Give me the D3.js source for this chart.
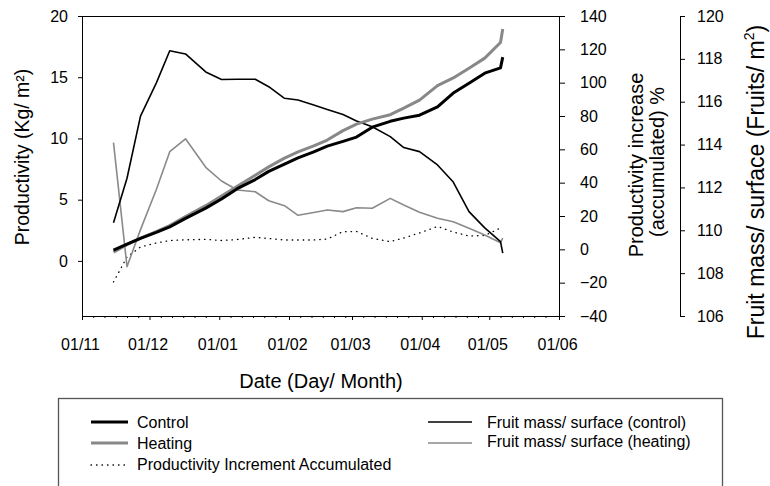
<!DOCTYPE html>
<html><head><meta charset="utf-8">
<script src="https://cdn.jsdelivr.net/npm/d3@7"></script>
<style>
body{margin:0;background:#fff}
svg text{font-family:"Liberation Sans",Arial,sans-serif;fill:#000}
</style></head><body>
<svg id="c" width="770" height="486"></svg>
<script>
// ---- data ----
const dates = ["2009-11-15","2009-11-21","2009-11-27","2009-12-04","2009-12-10","2009-12-17","2009-12-26",
  "2010-01-02","2010-01-09","2010-01-17","2010-01-23","2010-01-30","2010-02-05","2010-02-12","2010-02-18",
  "2010-02-25","2010-03-03","2010-03-10","2010-03-18","2010-03-24","2010-03-31","2010-04-08","2010-04-15",
  "2010-04-22","2010-04-29","2010-05-06","2010-05-07"];
const control = [0.87,1.36,1.84,2.33,2.78,3.47,4.31,5.06,5.90,6.64,7.31,7.91,8.41,8.90,9.37,9.76,10.11,10.92,11.40,11.66,11.90,12.57,13.71,14.51,15.33,15.76,16.64];
const heating = [0.72,1.33,1.86,2.39,2.88,3.62,4.51,5.29,6.09,7.00,7.68,8.39,8.90,9.39,9.87,10.64,11.17,11.58,11.94,12.47,13.13,14.31,14.94,15.74,16.56,17.84,18.94];
const increment = [-19.6,-4.6,1.4,3.8,5.3,5.7,6.0,5.3,5.9,7.2,6.5,5.6,5.6,5.6,6.2,10.6,10.7,6.6,4.6,6.8,9.8,13.7,10.4,8.0,8.3,12.8,13.6];
const fruitControl = [110.35,112.43,115.33,116.87,118.38,118.23,117.39,117.04,117.05,117.05,116.70,116.16,116.08,115.85,115.64,115.40,115.10,114.83,114.37,113.86,113.67,113.05,112.25,110.87,110.11,109.47,108.93];
const fruitHeating = [114.09,108.30,110.03,111.89,113.67,114.27,112.94,112.30,111.88,111.80,111.38,111.15,110.70,110.83,110.95,110.87,111.05,111.03,111.49,111.18,110.84,110.56,110.40,110.09,109.78,109.42,109.64];
const monthTicks = ["2009-11-01","2009-12-01","2010-01-01","2010-02-01","2010-03-01","2010-04-01","2010-05-01","2010-06-01"];
const monthLabels = ["01/11","01/12","01/01","01/02","01/03","01/04","01/05","01/06"];
const leftTicks = [0,5,10,15,20];
const incTicks = [-40,-20,0,20,40,60,80,100,120,140];
const fruitTicks = [106,108,110,112,114,116,118,120];

// ---- scales ----
const parse = d3.timeParse("%Y-%m-%d");
const svg = d3.select("#c");
const L = 82, R = 559, T = 16, B = 316;
const x = d3.scaleTime().domain([parse(monthTicks[0]), parse(monthTicks[monthTicks.length-1])]).range([L, R]);
const y = d3.scaleLinear().domain([-4.5, 20]).range([B, T]);
const y2 = d3.scaleLinear().domain([-40, 140]).range([B, T]);
const y3 = d3.scaleLinear().domain([106, 120]).range([B, T]);
const D = dates.map(parse);

function styleAxis(g){
  g.attr("font-family", "Liberation Sans, Arial, sans-serif").attr("font-size", 16);
  g.selectAll("path,line").attr("stroke", "#000").attr("stroke-width", 1);
  g.selectAll("text").attr("fill", "#000");
}

// minor x ticks every 5 days
const minor = [];
d3.timeMonth.range(parse(monthTicks[0]), parse(monthTicks[monthTicks.length-1])).forEach(m => {
  [6,11,16,21,26].forEach(dd => minor.push(new Date(m.getFullYear(), m.getMonth(), dd)));
});
svg.append("g").attr("transform", `translate(0,${B})`)
  .call(d3.axisBottom(x).tickValues(minor).tickSize(2).tickSizeOuter(0).tickFormat(""))
  .call(g => { g.select(".domain").remove(); styleAxis(g); });
svg.append("g").attr("transform", `translate(0,${B})`)
  .call(d3.axisBottom(x).tickValues(monthTicks.map(parse)).tickFormat((d, i) => monthLabels[i]).tickSize(4).tickSizeOuter(0).tickPadding(19))
  .call(g => { styleAxis(g); g.selectAll("text").attr("dx", -2); });

// left axis
svg.append("g").attr("transform", `translate(${L},0)`)
  .call(d3.axisLeft(y).tickValues(leftTicks).tickSize(4).tickSizeOuter(0).tickPadding(10))
  .call(styleAxis);
// right axis 1
svg.append("g").attr("transform", `translate(${R},0)`)
  .call(d3.axisRight(y2).tickValues(incTicks).tickSize(6).tickSizeOuter(0).tickPadding(15))
  .call(styleAxis);
// right axis 2
svg.append("g").attr("transform", `translate(680,0)`)
  .call(d3.axisRight(y3).tickValues(fruitTicks).tickSize(5).tickSizeOuter(0).tickPadding(12))
  .call(styleAxis);
// top frame
svg.append("line").attr("x1", L).attr("x2", R).attr("y1", T + 0.5).attr("y2", T + 0.5).attr("stroke", "#000");

// ---- lines ----
function draw(vals, sc, color, w, dash){
  const line = d3.line().x((d, i) => x(D[i])).y(d => sc(d));
  const p = svg.append("path").datum(vals).attr("d", line)
    .attr("fill", "none").attr("stroke", color).attr("stroke-width", w).attr("stroke-linejoin", "round");
  if (dash) p.attr("stroke-dasharray", dash).attr("stroke-linecap", "round");
}
draw(increment, y2, "#000", 1.3, "0.5,5");
draw(fruitHeating, y3, "#8a8a8a", 1.6);
draw(fruitControl, y3, "#000", 1.6);
draw(heating, y, "#888", 3);
draw(control, y, "#000", 3);

// ---- titles ----
svg.append("text").attr("transform", "translate(29,157) rotate(-90)").attr("text-anchor", "middle")
  .attr("font-size", 19.5).text("Productivity (Kg/ m²)");
svg.append("text").attr("transform", "translate(643,165) rotate(-90)").attr("text-anchor", "middle")
  .attr("font-size", 20).text("Productivity increase");
svg.append("text").attr("transform", "translate(664,162) rotate(-90)").attr("text-anchor", "middle")
  .attr("font-size", 20).text("(accumulated) %");
const ft = svg.append("text").attr("transform", "translate(764,182) rotate(-90)").attr("text-anchor", "middle")
  .attr("font-size", 23);
ft.append("tspan").text("Fruit mass/ surface (Fruits/ m");
ft.append("tspan").attr("font-size", 14).attr("dy", -10).text("2");
ft.append("tspan").attr("dy", 10).text(")");
svg.append("text").attr("x", 321).attr("y", 388).attr("text-anchor", "middle").attr("font-size", 20).text("Date (Day/ Month)");

// ---- legend ----
svg.append("rect").attr("x", 58.5).attr("y", 398.5).attr("width", 664).attr("height", 110)
  .attr("fill", "none").attr("stroke", "#555").attr("stroke-width", 1.3);
const legend = [
  {label: "Control", color: "#000", w: 3, dash: null, x1: 91, x2: 128, ty: 428, ly: 422},
  {label: "Heating", color: "#888", w: 3, dash: null, x1: 91, x2: 128, ty: 449, ly: 443},
  {label: "Productivity Increment Accumulated", color: "#000", w: 1.3, dash: "0.5,5", x1: 91, x2: 128, ty: 470, ly: 465},
  {label: "Fruit mass/ surface (control)", color: "#000", w: 1.6, dash: null, x1: 428, x2: 472, ty: 428, ly: 422},
  {label: "Fruit mass/ surface (heating)", color: "#8a8a8a", w: 1.6, dash: null, x1: 428, x2: 472, ty: 447, ly: 443}
];
legend.forEach(d => {
  const l = svg.append("line").attr("x1", d.x1).attr("x2", d.x2).attr("y1", d.ly).attr("y2", d.ly)
    .attr("stroke", d.color).attr("stroke-width", d.w);
  if (d.dash) l.attr("stroke-dasharray", d.dash).attr("stroke-linecap", "round");
  svg.append("text").attr("x", d.x2 + (d.x2 > 200 ? 15 : 9)).attr("y", d.ty).attr("font-size", 16).text(d.label);
});
</script>
</body></html>
